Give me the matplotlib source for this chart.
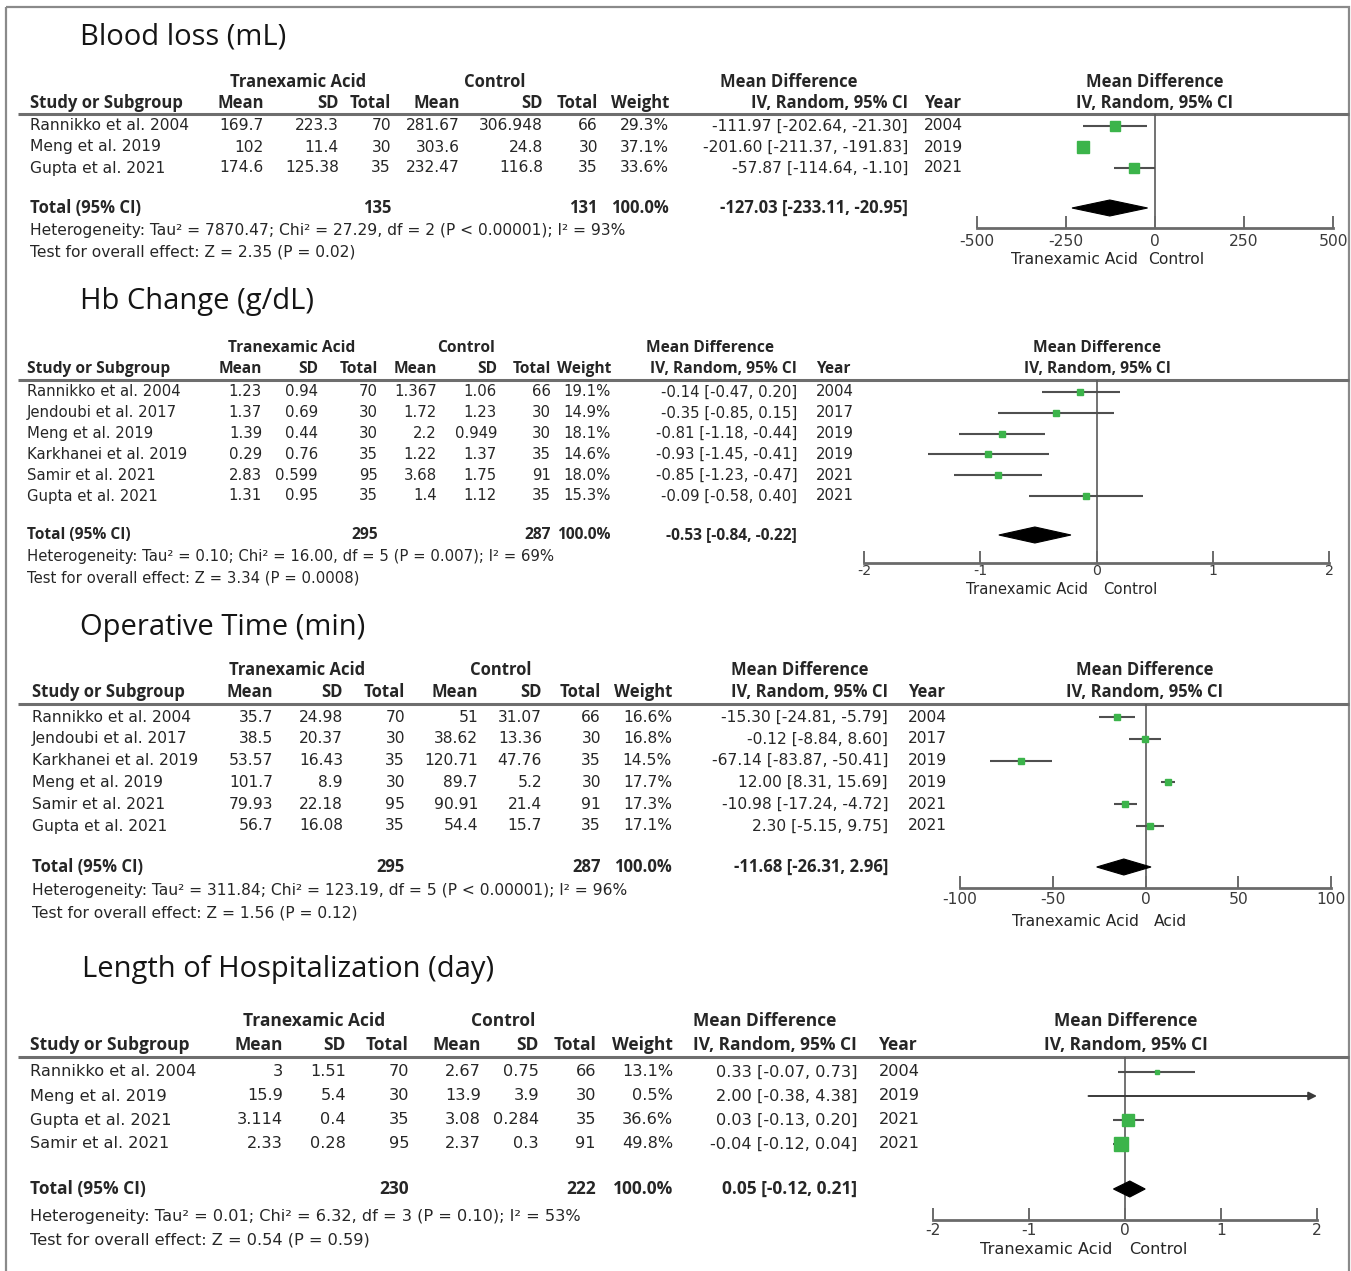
import matplotlib
matplotlib.use("Agg")
import matplotlib.pyplot as plt
from matplotlib.patches import Rectangle, Polygon

REG = ["DejaVu Sans"]
BOLD = ["Open Sans", "DejaVu Sans"]
plt.rcParams['font.family'] = REG

# ---------------- DATA ----------------
# Panel 1: Blood loss
p1_title = "Blood loss (mL)"
p1_studies = ["Rannikko et al. 2004", "Meng et al. 2019", "Gupta et al. 2021"]
p1_tx_mean = [169.7, 102, 174.6]
p1_tx_sd = [223.3, 11.4, 125.38]
p1_tx_n = [70, 30, 35]
p1_c_mean = [281.67, 303.6, 232.47]
p1_c_sd = [306.948, 24.8, 116.8]
p1_c_n = [66, 30, 35]
p1_weight = [29.3, 37.1, 33.6]
p1_md = [-111.97, -201.60, -57.87]
p1_lo = [-202.64, -211.37, -114.64]
p1_hi = [-21.30, -191.83, -1.10]
p1_year = [2004, 2019, 2021]
p1_total = [135, 131, -127.03, -233.11, -20.95]
p1_het = "Heterogeneity: Tau² = 7870.47; Chi² = 27.29, df = 2 (P < 0.00001); I² = 93%"
p1_test = "Test for overall effect: Z = 2.35 (P = 0.02)"
p1_ticks = [-500, -250, 0, 250, 500]
p1_favours = ["Tranexamic Acid", "Control"]

# Panel 2: Hb change
p2_title = "Hb Change (g/dL)"
p2_studies = ["Rannikko et al. 2004", "Jendoubi et al. 2017", "Meng et al. 2019",
              "Karkhanei et al. 2019", "Samir et al. 2021", "Gupta et al. 2021"]
p2_tx_mean = [1.23, 1.37, 1.39, 0.29, 2.83, 1.31]
p2_tx_sd = [0.94, 0.69, 0.44, 0.76, 0.599, 0.95]
p2_tx_n = [70, 30, 30, 35, 95, 35]
p2_c_mean = [1.367, 1.72, 2.2, 1.22, 3.68, 1.4]
p2_c_sd = [1.06, 1.23, 0.949, 1.37, 1.75, 1.12]
p2_c_n = [66, 30, 30, 35, 91, 35]
p2_weight = [19.1, 14.9, 18.1, 14.6, 18.0, 15.3]
p2_md = [-0.14, -0.35, -0.81, -0.93, -0.85, -0.09]
p2_lo = [-0.47, -0.85, -1.18, -1.45, -1.23, -0.58]
p2_hi = [0.20, 0.15, -0.44, -0.41, -0.47, 0.40]
p2_year = [2004, 2017, 2019, 2019, 2021, 2021]
p2_total = [295, 287, -0.53, -0.84, -0.22]
p2_het = "Heterogeneity: Tau² = 0.10; Chi² = 16.00, df = 5 (P = 0.007); I² = 69%"
p2_test = "Test for overall effect: Z = 3.34 (P = 0.0008)"
p2_ticks = [-2, -1, 0, 1, 2]
p2_favours = ["Tranexamic Acid", "Control"]

# Panel 3: Operative time
p3_title = "Operative Time (min)"
p3_studies = ["Rannikko et al. 2004", "Jendoubi et al. 2017", "Karkhanei et al. 2019",
              "Meng et al. 2019", "Samir et al. 2021", "Gupta et al. 2021"]
p3_tx_mean = [35.7, 38.5, 53.57, 101.7, 79.93, 56.7]
p3_tx_sd = [24.98, 20.37, 16.43, 8.9, 22.18, 16.08]
p3_tx_n = [70, 30, 35, 30, 95, 35]
p3_c_mean = [51, 38.62, 120.71, 89.7, 90.91, 54.4]
p3_c_sd = [31.07, 13.36, 47.76, 5.2, 21.4, 15.7]
p3_c_n = [66, 30, 35, 30, 91, 35]
p3_weight = [16.6, 16.8, 14.5, 17.7, 17.3, 17.1]
p3_md = [-15.30, -0.12, -67.14, 12.00, -10.98, 2.30]
p3_lo = [-24.81, -8.84, -83.87, 8.31, -17.24, -5.15]
p3_hi = [-5.79, 8.60, -50.41, 15.69, -4.72, 9.75]
p3_year = [2004, 2017, 2019, 2019, 2021, 2021]
p3_total = [295, 287, -11.68, -26.31, 2.96]
p3_het = "Heterogeneity: Tau² = 311.84; Chi² = 123.19, df = 5 (P < 0.00001); I² = 96%"
p3_test = "Test for overall effect: Z = 1.56 (P = 0.12)"
p3_ticks = [-100, -50, 0, 50, 100]
p3_favours = ["Tranexamic Acid", "Acid"]

# Panel 4: Length of hospitalization
p4_title = "Length of Hospitalization (day)"
p4_studies = ["Rannikko et al. 2004", "Meng et al. 2019", "Gupta et al. 2021", "Samir et al. 2021"]
p4_tx_mean = [3, 15.9, 3.114, 2.33]
p4_tx_sd = [1.51, 5.4, 0.4, 0.28]
p4_tx_n = [70, 30, 35, 95]
p4_c_mean = [2.67, 13.9, 3.08, 2.37]
p4_c_sd = [0.75, 3.9, 0.284, 0.3]
p4_c_n = [66, 30, 35, 91]
p4_weight = [13.1, 0.5, 36.6, 49.8]
p4_md = [0.33, 2.00, 0.03, -0.04]
p4_lo = [-0.07, -0.38, -0.13, -0.12]
p4_hi = [0.73, 4.38, 0.20, 0.04]
p4_year = [2004, 2019, 2021, 2021]
p4_total = [230, 222, 0.05, -0.12, 0.21]
p4_het = "Heterogeneity: Tau² = 0.01; Chi² = 6.32, df = 3 (P = 0.10); I² = 53%"
p4_test = "Test for overall effect: Z = 0.54 (P = 0.59)"
p4_ticks = [-2, -1, 0, 1, 2]
p4_favours = ["Tranexamic Acid", "Control"]

panels_data = [
    dict(title=p1_title, studies=p1_studies, tm=p1_tx_mean, tsd=p1_tx_sd, tn=p1_tx_n,
         cm=p1_c_mean, csd=p1_c_sd, cn=p1_c_n, w=p1_weight, md=p1_md, lo=p1_lo, hi=p1_hi,
         year=p1_year, total=p1_total, het=p1_het, test=p1_test, ticks=p1_ticks, fav=p1_favours),
    dict(title=p2_title, studies=p2_studies, tm=p2_tx_mean, tsd=p2_tx_sd, tn=p2_tx_n,
         cm=p2_c_mean, csd=p2_c_sd, cn=p2_c_n, w=p2_weight, md=p2_md, lo=p2_lo, hi=p2_hi,
         year=p2_year, total=p2_total, het=p2_het, test=p2_test, ticks=p2_ticks, fav=p2_favours),
    dict(title=p3_title, studies=p3_studies, tm=p3_tx_mean, tsd=p3_tx_sd, tn=p3_tx_n,
         cm=p3_c_mean, csd=p3_c_sd, cn=p3_c_n, w=p3_weight, md=p3_md, lo=p3_lo, hi=p3_hi,
         year=p3_year, total=p3_total, het=p3_het, test=p3_test, ticks=p3_ticks, fav=p3_favours),
    dict(title=p4_title, studies=p4_studies, tm=p4_tx_mean, tsd=p4_tx_sd, tn=p4_tx_n,
         cm=p4_c_mean, csd=p4_c_sd, cn=p4_c_n, w=p4_weight, md=p4_md, lo=p4_lo, hi=p4_hi,
         year=p4_year, total=p4_total, het=p4_het, test=p4_test, ticks=p4_ticks, fav=p4_favours),
]

# ---------------- LAYOUT (pixels) ----------------
layouts = [
    dict(title_x=80, title_y=37, group_y=82, head_y=103, line_y=114, row0=126, step=21,
         total_y=208, het_y=231, test_y=252, axis_y=228, px0=977, px1=1333, lab_y=260,
         study_x=30, cols=[264, 339, 391, 460, 543, 598, 669], ci_r=908, year_l=924,
         grp=[298, 495, 789], plot_c=1155, fs=11.2, fb=12.0, fav_off=(-17, -7),
         pad=4, tfs=11.2),
    dict(title_x=80, title_y=302, group_y=348, head_y=369, line_y=380, row0=392, step=20.8,
         total_y=535, het_y=557, test_y=578, axis_y=563, px0=864, px1=1329, lab_y=589,
         study_x=27, cols=[262, 318, 378, 437, 497, 551, 611], ci_r=797, year_l=816,
         grp=[292, 466, 710], plot_c=1097, fs=10.7, fb=11.2, fav_off=(-8, 7),
         pad=1, tfs=10.2),
    dict(title_x=80, title_y=627, group_y=670, head_y=692, line_y=704, row0=717, step=21.8,
         total_y=867, het_y=890, test_y=913, axis_y=888, px0=960, px1=1331, lab_y=921,
         study_x=32, cols=[273, 343, 405, 478, 542, 601, 672], ci_r=888, year_l=908,
         grp=[297, 501, 800], plot_c=1145, fs=11.2, fb=12.0, fav_off=(-7, 8),
         pad=3, tfs=11.2),
    dict(title_x=82, title_y=970, group_y=1021, head_y=1045, line_y=1057, row0=1072, step=24,
         total_y=1189, het_y=1216, test_y=1240, axis_y=1220, px0=933, px1=1317, lab_y=1249,
         study_x=30, cols=[283, 346, 409, 481, 539, 596, 673], ci_r=857, year_l=879,
         grp=[314, 503, 765], plot_c=1126, fs=11.6, fb=12.5, fav_off=(-13, 4),
         pad=2, tfs=11.2),
]

W, H = 1351, 1271
TXT = "#262626"
LINE = "#5a5a5a"
GREEN = "#3cb44b"

fig = plt.figure(figsize=(W / 100, H / 100), dpi=100)
bg = fig.add_axes([0, 0, 1, 1])
bg.set_xlim(0, W)
bg.set_ylim(H, 0)
bg.axis("off")

bg.add_patch(Rectangle((6, 7), 1343, 1280, fill=False, edgecolor="#8a8a8a", lw=1.6))


def fmt(v):
    return f"{v:g}"


def ci_text(m, l, h):
    return f"{m:.2f} [{l:.2f}, {h:.2f}]"


for d, L in zip(panels_data, layouts):
    fs = L["fs"]
    fb = L["fb"]

    def btext(x, y, s, ha):
        bg.text(x, y, s, fontsize=fb, fontweight="bold", family=BOLD, color=TXT,
                ha=ha, va="center")

    def rtext(x, y, s, ha):
        bg.text(x, y, s, fontsize=fs, color=TXT, ha=ha, va="center")

    # title
    bg.text(L["title_x"], L["title_y"], d["title"], fontsize=21, family=BOLD,
            color="#151515", va="center", ha="left")
    # group headers
    btext(L["grp"][0], L["group_y"], "Tranexamic Acid", "center")
    btext(L["grp"][1], L["group_y"], "Control", "center")
    btext(L["grp"][2], L["group_y"], "Mean Difference", "center")
    btext(L["plot_c"], L["group_y"], "Mean Difference", "center")
    # column headers
    btext(L["study_x"], L["head_y"], "Study or Subgroup", "left")
    for x, lab in zip(L["cols"], ["Mean", "SD", "Total", "Mean", "SD", "Total", "Weight"]):
        btext(x, L["head_y"], lab, "right")
    btext(L["ci_r"], L["head_y"], "IV, Random, 95% CI", "right")
    btext(L["year_l"], L["head_y"], "Year", "left")
    btext(L["plot_c"], L["head_y"], "IV, Random, 95% CI", "center")
    # header rule
    bg.plot([18, 1349], [L["line_y"], L["line_y"]], color="#6e6e6e", lw=2.2,
            solid_capstyle="butt")

    # study rows
    n = len(d["studies"])
    for i in range(n):
        y = L["row0"] + i * L["step"]
        rtext(L["study_x"], y, d["studies"][i], "left")
        vals = [fmt(d["tm"][i]), fmt(d["tsd"][i]), str(d["tn"][i]),
                fmt(d["cm"][i]), fmt(d["csd"][i]), str(d["cn"][i]), f"{d['w'][i]:.1f}%"]
        for x, v in zip(L["cols"], vals):
            rtext(x, y, v, "right")
        rtext(L["ci_r"], y, ci_text(d["md"][i], d["lo"][i], d["hi"][i]), "right")
        rtext(L["year_l"], y, str(d["year"][i]), "left")

    # total row
    ty = L["total_y"]
    tt = d["total"]
    btext(L["study_x"], ty, "Total (95% CI)", "left")
    btext(L["cols"][2], ty, str(tt[0]), "right")
    btext(L["cols"][5], ty, str(tt[1]), "right")
    btext(L["cols"][6], ty, "100.0%", "right")
    btext(L["ci_r"], ty, ci_text(tt[2], tt[3], tt[4]), "right")
    rtext(L["study_x"], L["het_y"], d["het"], "left")
    rtext(L["study_x"], L["test_y"], d["test"], "left")

    # ---------- forest axes ----------
    x0, x1 = L["px0"], L["px1"]
    top, bot = L["line_y"], L["axis_y"]
    ax = fig.add_axes([x0 / W, 1 - bot / H, (x1 - x0) / W, (bot - top) / H])
    ticks = d["ticks"]
    xmin, xmax = ticks[0], ticks[-1]
    ax.set_xlim(xmin, xmax)
    step = L["step"]
    y_top = (top - L["row0"]) / step
    y_bot = (bot - L["row0"]) / step
    ax.set_ylim(y_bot, y_top)
    ax.patch.set_alpha(0)
    for s in ["top", "left", "right"]:
        ax.spines[s].set_visible(False)
    ax.spines["bottom"].set_color("#6a6a6a")
    ax.spines["bottom"].set_linewidth(2.0)
    ax.set_yticks([])
    ax.set_xticks(ticks)
    ax.set_xticklabels([f"{t:g}" for t in ticks])
    ax.tick_params(axis="x", direction="in", length=9, width=1.4, color="#6a6a6a",
                   labelsize=L["tfs"], labelcolor="#3a3a3a", pad=L["pad"])
    ax.axvline(0, color=LINE, lw=1.2, zorder=1)

    for i in range(n):
        lo, hi, md, w = d["lo"][i], d["hi"][i], d["md"][i], d["w"][i]
        if hi > xmax:
            ax.annotate("", xy=(xmax, i), xytext=(max(lo, xmin), i),
                        arrowprops=dict(arrowstyle="-|>", color="#3a3a3a", lw=1.4,
                                        mutation_scale=12, shrinkA=0, shrinkB=0), zorder=2)
        else:
            ax.plot([max(lo, xmin), hi], [i, i], color="#4f4f4f", lw=1.5, zorder=2,
                    solid_capstyle="butt")
        if xmin < md < xmax:
            ms = 1.0 + 0.19 * w
            ax.plot([md], [i], marker="s", ms=ms, color=GREEN, mec=GREEN, ls="none", zorder=3)

    # diamond
    yt = (L["total_y"] - L["row0"]) / step
    hh = 8.0 / step
    ax.add_patch(Polygon([(tt[3], yt), (tt[2], yt - hh), (tt[4], yt), (tt[2], yt + hh)],
                         closed=True, facecolor="black", edgecolor="black", lw=0.8, zorder=4))

    # favours labels
    zero_px = x0 + (0 - xmin) / (xmax - xmin) * (x1 - x0)
    bg.text(zero_px + L["fav_off"][0], L["lab_y"], d["fav"][0], fontsize=fs, color=TXT,
            ha="right", va="center")
    bg.text(zero_px + L["fav_off"][1], L["lab_y"], d["fav"][1], fontsize=fs, color=TXT,
            ha="left", va="center")

fig.savefig("out.png", dpi=100)
